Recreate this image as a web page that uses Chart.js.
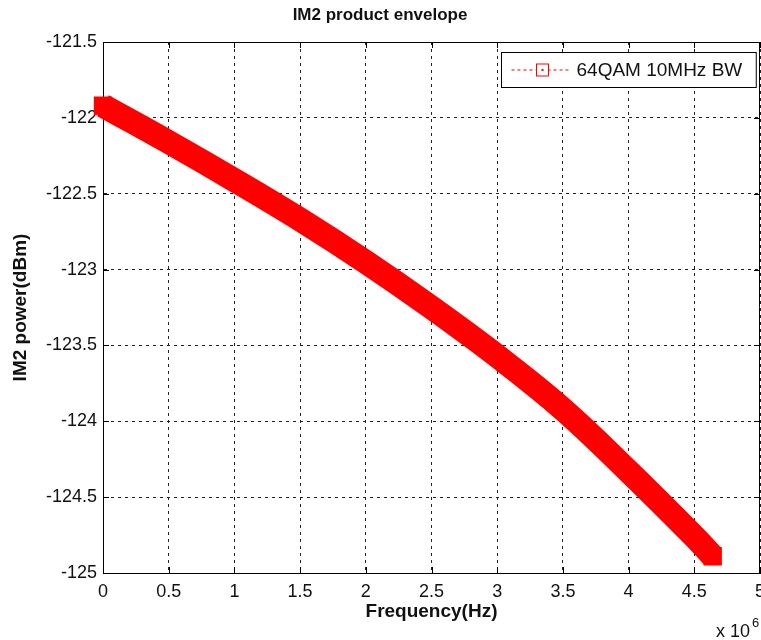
<!DOCTYPE html>
<html lang="en">
<head>
  <meta charset="UTF-8" />
  <title>IM2 product envelope</title>
  <script src="https://cdn.jsdelivr.net/npm/chart.js"></script>
  <style>
    body { margin: 0; background: #fff; }
  </style>
</head>
<body>
  <canvas id="im2Chart" width="761" height="640"></canvas>

  <script>
    // frequency in units of 1e6 Hz, IM2 power in dBm
    const freqMHz = [0, 0.5, 1.0, 1.5, 2.0, 2.5, 3.0, 3.5, 4.0, 4.5, 4.64];
    const im2Power = [-121.92, -122.16, -122.41, -122.67, -122.95, -123.25, -123.57, -123.92, -124.33, -124.76, -124.89];
    const xTicks = [0, 0.5, 1, 1.5, 2, 2.5, 3, 3.5, 4, 4.5, 5];
    const yTicks = [-125, -124.5, -124, -123.5, -123, -122.5, -122, -121.5];
    const seriesLabel = '64QAM 10MHz BW';

    const FONT = "'Liberation Sans', Arial, sans-serif";

    // MATLAB style box: solid top/right border, inward tick marks, legend, exponent
    const matlabFrame = {
      id: 'matlabFrame',
      beforeDatasetsDraw(chart) {
        const { ctx, chartArea: a, scales } = chart;
        ctx.save();
        ctx.strokeStyle = '#000';
        ctx.lineWidth = 1;
        ctx.setLineDash([]);
        ctx.beginPath();
        ctx.moveTo(a.left, a.top + 0.5);
        ctx.lineTo(a.right, a.top + 0.5);
        ctx.moveTo(a.right - 0.5, a.top);
        ctx.lineTo(a.right - 0.5, a.bottom);
        const len = 6;
        xTicks.forEach(v => {
          const x = Math.round(scales.x.getPixelForValue(v)) + 0.5;
          ctx.moveTo(x, a.bottom); ctx.lineTo(x, a.bottom - len);
          ctx.moveTo(x, a.top); ctx.lineTo(x, a.top + len);
        });
        yTicks.forEach(v => {
          const y = Math.round(scales.y.getPixelForValue(v)) + 0.5;
          ctx.moveTo(a.left, y); ctx.lineTo(a.left + len, y);
          ctx.moveTo(a.right, y); ctx.lineTo(a.right - len, y);
        });
        ctx.stroke();
        ctx.restore();
      },
      afterDraw(chart) {
        const { ctx, chartArea: a } = chart;
        ctx.save();

        // legend box
        ctx.font = '19px ' + FONT;
        const label = chart.data.datasets[0].label;
        const tw = ctx.measureText(label).width;
        const boxW = 75 + tw + 14, boxH = 35;
        const bx = Math.round(a.right - 4 - boxW) + 0.5, by = Math.round(a.top + 10) + 0.5;
        ctx.fillStyle = '#fff';
        ctx.fillRect(bx, by, boxW, boxH);
        ctx.strokeStyle = '#000';
        ctx.lineWidth = 1;
        ctx.strokeRect(bx, by, boxW, boxH);

        const ly = by + boxH / 2;
        ctx.strokeStyle = '#ff0000';
        ctx.setLineDash([3, 3]);
        ctx.beginPath();
        ctx.moveTo(bx + 10, ly);
        ctx.lineTo(bx + 69, ly);
        ctx.stroke();
        ctx.setLineDash([]);
        ctx.fillStyle = '#fff';
        ctx.fillRect(bx + 35, ly - 6, 12, 12);
        ctx.strokeRect(bx + 35, ly - 6, 12, 12);
        ctx.fillStyle = '#ff0000';
        ctx.fillRect(bx + 40, ly - 1, 2, 2);

        ctx.fillStyle = '#111';
        ctx.textAlign = 'left';
        ctx.textBaseline = 'middle';
        ctx.fillText(label, bx + 75, ly + 1);

        // x 10^6 exponent under the right end of the x axis
        ctx.textBaseline = 'alphabetic';
        ctx.font = '18px ' + FONT;
        ctx.fillText('x 10', a.right - 44, 637);
        ctx.font = '13px ' + FONT;
        ctx.fillText('6', a.right - 8, 627);
        ctx.restore();
      }
    };

    new Chart(document.getElementById('im2Chart'), {
      type: 'line',
      data: {
        datasets: [{
          label: seriesLabel,
          data: freqMHz.map((f, i) => ({ x: f, y: im2Power[i] })),
          borderColor: '#ff0000',
          backgroundColor: '#ff0000',
          borderWidth: 24,
          borderCapStyle: 'butt',
          borderJoinStyle: 'round',
          tension: 0.4,
          pointStyle: 'rect',
          pointRadius: ctx => (ctx.dataIndex === 0 || ctx.dataIndex === freqMHz.length - 1) ? 13 : 0,
          pointBorderWidth: 0,
          fill: false,
          clip: false
        }]
      },
      options: {
        responsive: false,
        animation: false,
        devicePixelRatio: 1,
        layout: { autoPadding: false, padding: { top: 0, right: 1, bottom: 0, left: 0 } },
        plugins: {
          legend: { display: false },
          tooltip: { enabled: false },
          title: {
            display: true,
            text: 'IM2 product envelope',
            color: '#111',
            font: { family: FONT, size: 17, weight: 'bold' },
            padding: { top: 5, bottom: 16.6 }
          }
        },
        scales: {
          x: {
            type: 'linear',
            min: 0,
            max: 5,
            afterBuildTicks: s => { s.ticks = xTicks.map(v => ({ value: v })); },
            afterFit: s => { s.height = 67; s.paddingLeft = 0; s.paddingRight = 0; },
            ticks: {
              callback: v => String(v),
              color: '#111',
              font: { family: FONT, size: 18 },
              padding: 8,
              maxRotation: 0,
              autoSkip: false
            },
            grid: { color: '#222', lineWidth: 1, drawTicks: false },
            border: { display: true, color: '#000', width: 1, dash: [3, 4] },
            title: {
              display: true,
              text: 'Frequency(Hz)',
              color: '#111',
              font: { family: FONT, size: 19, weight: 'bold' },
              padding: { top: 0, bottom: 17 }
            }
          },
          y: {
            type: 'linear',
            min: -125,
            max: -121.5,
            afterBuildTicks: s => { s.ticks = yTicks.map(v => ({ value: v })); },
            afterFit: s => { s.width = 103; s.paddingTop = 0; s.paddingBottom = 0; },
            ticks: {
              callback: v => String(v),
              color: '#111',
              font: { family: FONT, size: 18 },
              padding: 6,
              autoSkip: false
            },
            grid: { color: '#222', lineWidth: 1, drawTicks: false },
            border: { display: true, color: '#000', width: 1, dash: [3, 4] },
            title: {
              display: true,
              text: 'IM2 power(dBm)',
              color: '#111',
              font: { family: FONT, size: 19, weight: 'bold' },
              padding: { top: 9, bottom: 0 }
            }
          }
        }
      },
      plugins: [matlabFrame]
    });
  </script>
</body>
</html>
